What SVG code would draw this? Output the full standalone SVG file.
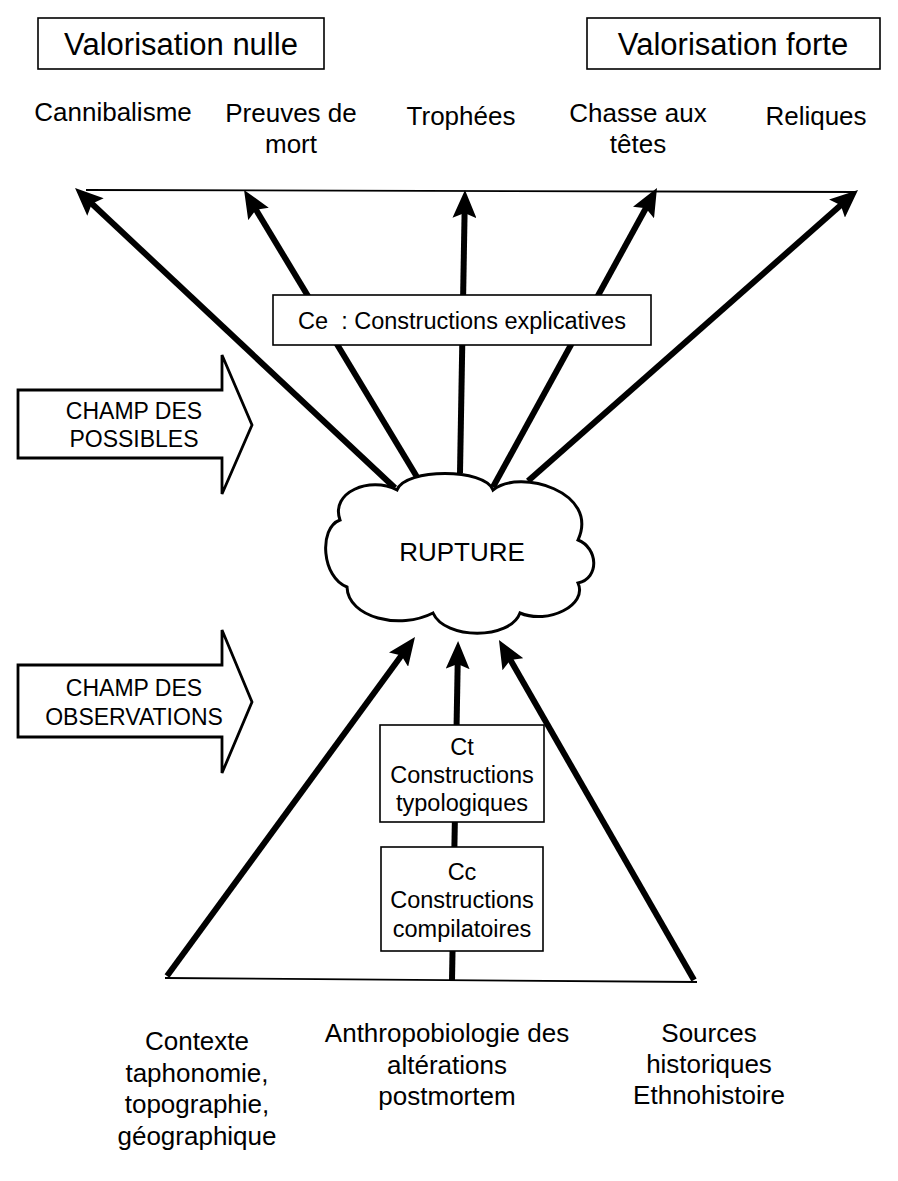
<svg xmlns="http://www.w3.org/2000/svg" width="898" height="1181" viewBox="0 0 898 1181">
<style>
text{font-family:"Liberation Sans",Arial,sans-serif;fill:#000;text-anchor:middle}
.big{font-size:31px}
.lbl{font-size:26px}
.box{fill:#fff;stroke:#000;stroke-width:1.6}
.thick{stroke:#000;stroke-width:6;fill:none;marker-end:url(#ah)}
.thin{stroke:#000;stroke-width:1.8;fill:none}
.fat{fill:#fff;stroke:#000;stroke-width:2.8;stroke-linejoin:miter}
.sm{font-size:23.5px}
.cap{font-size:23px}
.ce{font-size:23.5px}
</style>
<defs>
<marker id="ah" viewBox="0 0 28 24" refX="6" refY="12" markerWidth="28" markerHeight="24" markerUnits="userSpaceOnUse" orient="auto">
<path d="M0,0 L28,12 L0,24 L5,12 Z" fill="#000"/>
</marker>
</defs>

<g id="valorisation-nulle">
<rect class="box" x="38" y="18" width="286" height="51"/>
<text class="big" x="181" y="55">Valorisation nulle</text>
</g>
<g id="valorisation-forte">
<rect class="box" x="587" y="18" width="293" height="51"/>
<text class="big" x="733" y="55">Valorisation forte</text>
</g>

<g id="cannibalisme"><text class="lbl" x="113" y="121">Cannibalisme</text></g>
<g id="preuves"><text class="lbl" x="291" y="122">Preuves de</text><text class="lbl" x="291" y="153">mort</text></g>
<g id="trophees"><text class="lbl" x="461" y="125">Trophées</text></g>
<g id="chasse"><text class="lbl" x="638" y="122">Chasse aux</text><text class="lbl" x="638" y="153">têtes</text></g>
<g id="reliques"><text class="lbl" x="816" y="125">Reliques</text></g>

<g id="connectors">
<line class="thin" x1="86" y1="190" x2="856" y2="192"/>
<line class="thin" x1="165" y1="978" x2="697" y2="982"/>
<line class="thick" x1="395" y1="488" x2="91.1" y2="203"/>
<line class="thick" x1="417" y1="477" x2="255.4" y2="208.8"/>
<line class="thick" x1="460" y1="473" x2="464.6" y2="212"/>
<line class="thick" x1="493" y1="487" x2="646.4" y2="207.3"/>
<line class="thick" x1="528" y1="481" x2="841.5" y2="204.6"/>
<line class="thick" x1="167" y1="976" x2="402" y2="654.8"/>
<line class="thick" x1="452" y1="980" x2="457.7" y2="663"/>
<line class="thick" x1="694" y1="980" x2="509.9" y2="659.1"/>
</g>

<g id="ce">
<rect class="box" x="273" y="295" width="378" height="50"/>
<text class="ce" x="462" y="329" xml:space="preserve">Ce  : Constructions explicatives</text>
</g>

<g id="champ-possibles">
<path class="fat" d="M18,390 L222,390 L222,355 L252,425 L222,494 L222,458 L18,458 Z"/>
<text class="cap" x="134" y="419">CHAMP DES</text>
<text class="cap" x="134" y="447">POSSIBLES</text>
</g>
<g id="champ-observations">
<path class="fat" d="M18,665 L222,665 L222,630 L252,702 L222,773 L222,737 L18,737 Z"/>
<text class="cap" x="134" y="696">CHAMP DES</text>
<text class="cap" x="134" y="725">OBSERVATIONS</text>
</g>

<g id="rupture">
<path d="M397,490 C405,468 485,468 493,490 C520,468 600,492 578,540 C598,548 600,578 578,583 C588,605 548,625 520,613 C510,640 445,640 433,613 C400,630 348,618 347,587 C322,578 318,528 340,520 C330,492 370,476 397,490 Z" fill="#fff" stroke="#000" stroke-width="3"/>
<text class="lbl" x="462" y="561">RUPTURE</text>
</g>

<g id="ct">
<rect class="box" x="380" y="725" width="164" height="97"/>
<text class="sm" x="462" y="755">Ct</text>
<text class="sm" x="462" y="783">Constructions</text>
<text class="sm" x="462" y="811">typologiques</text>
</g>
<g id="cc">
<rect class="box" x="381" y="847" width="162" height="104"/>
<text class="sm" x="462" y="880">Cc</text>
<text class="sm" x="462" y="908">Constructions</text>
<text class="sm" x="462" y="937">compilatoires</text>
</g>

<g id="contexte">
<text class="lbl" x="197" y="1050">Contexte</text>
<text class="lbl" x="197" y="1082">taphonomie,</text>
<text class="lbl" x="197" y="1113">topographie,</text>
<text class="lbl" x="197" y="1145">géographique</text>
</g>
<g id="anthropobiologie">
<text class="lbl" x="447" y="1042">Anthropobiologie des</text>
<text class="lbl" x="447" y="1074">altérations</text>
<text class="lbl" x="447" y="1105">postmortem</text>
</g>
<g id="sources">
<text class="lbl" x="709" y="1042">Sources</text>
<text class="lbl" x="709" y="1073">historiques</text>
<text class="lbl" x="709" y="1104">Ethnohistoire</text>
</g>
</svg>
